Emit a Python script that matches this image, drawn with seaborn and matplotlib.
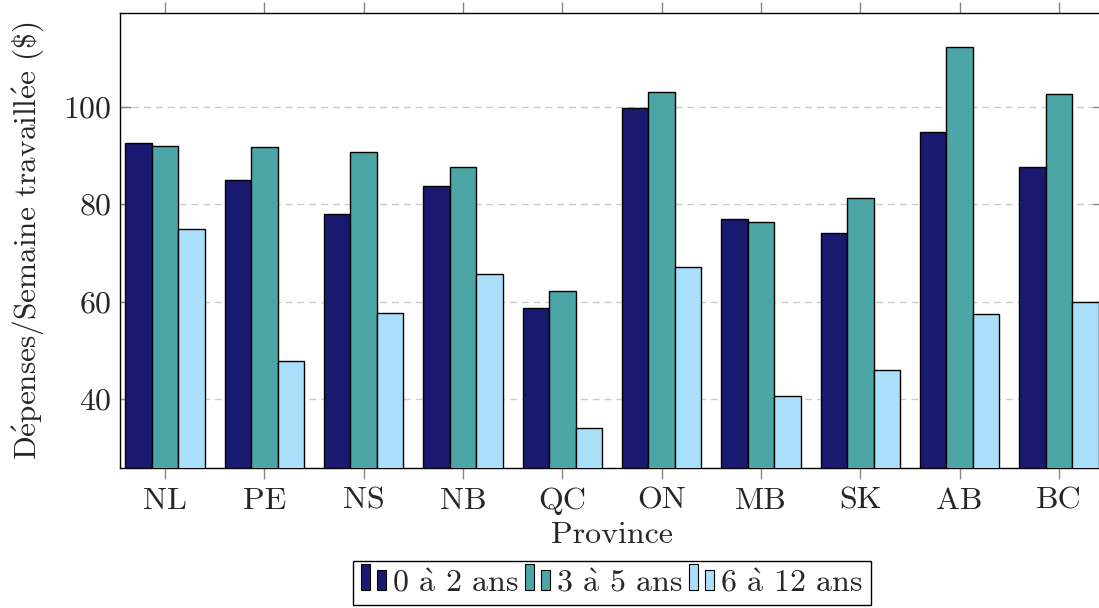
import matplotlib
matplotlib.use("Agg")
import matplotlib.pyplot as plt
from matplotlib.patches import Rectangle
from matplotlib.legend_handler import HandlerBase
import seaborn as sns
import pandas as pd

provinces = ["NL", "PE", "NS", "NB", "QC", "ON", "MB", "SK", "AB", "BC"]
age_groups = ["0 à 2 ans", "3 à 5 ans", "6 à 12 ans"]
vals_0_2 = [92.5, 84.9, 77.9, 83.7, 58.8, 99.8, 76.9, 74.0, 94.7, 87.6]
vals_3_5 = [91.9, 91.7, 90.7, 87.7, 62.2, 103.0, 76.3, 81.3, 112.3, 102.6]
vals_6_12 = [75.0, 47.9, 57.7, 65.7, 34.2, 67.2, 40.7, 46.0, 57.5, 60.0]
colors = ["#191970", "#4ca6a6", "#aadff9"]
x_label = "Province"
y_label = "Dépenses/Semaine travaillée ($)"

rows = []
for g, vals in zip(age_groups, [vals_0_2, vals_3_5, vals_6_12]):
    for p, v in zip(provinces, vals):
        rows.append({"Province": p, "Valeur": v, "Groupe": g})
df = pd.DataFrame(rows)


def tex(s):
    # render accented letters with Computer Modern accents
    s = s.replace("$", r"\$")
    s = s.replace("é", r"$\acute{\mathrm{e}}$").replace("à", r"$\grave{\mathrm{a}}$")
    return s


sns.set_style("white")
plt.rcParams["font.family"] = ["cmr10", "DejaVu Serif"]
plt.rcParams["mathtext.fontset"] = "cm"
plt.rcParams["axes.formatter.use_mathtext"] = True
FS = 23

fig = plt.figure(figsize=(10.99, 6.08), dpi=100)
ax = fig.add_axes([120 / 1099, 1 - 468 / 608, (1104 - 120) / 1099, (468 - 13) / 608])

sns.barplot(data=df, x="Province", y="Valeur", hue="Groupe", order=provinces,
            hue_order=age_groups, palette=colors, saturation=1, width=0.8, gap=0,
            edgecolor="black", linewidth=1.0, ax=ax, legend=False, errorbar=None, zorder=3)

ax.set_xlim(-0.453, 9.453)
ax.set_ylim(25.9, 119.2)
ax.set_yticks([40, 60, 80, 100])
ax.yaxis.grid(True, color="#cccccc", linestyle=(0, (5, 3.5)), linewidth=1.0, zorder=0)
ax.set_axisbelow(True)

ax.tick_params(axis="x", which="both", direction="out", length=8, width=1, color="#888888",
               top=True, bottom=True, labelsize=FS, pad=6)
ax.tick_params(axis="y", which="both", direction="in", length=8, width=1, color="#888888",
               left=True, right=True, labelsize=FS, pad=6)

for s in ["left", "bottom", "top", "right"]:
    ax.spines[s].set_visible(True)
    ax.spines[s].set_color("black")
    ax.spines[s].set_linewidth(1.0)

ax.set_xlabel(x_label, fontsize=FS, labelpad=5)
ax.set_ylabel(tex(y_label), fontsize=22.5, labelpad=12)


class DoubleBar(HandlerBase):
    def create_artists(self, legend, orig_handle, xdescent, ydescent, width, height, fontsize, trans):
        fc = orig_handle.get_facecolor()
        bw = width * 0.36
        x0 = -xdescent
        y0 = -ydescent + height * 0.08
        r1 = Rectangle((x0, y0), bw, height * 1.15, facecolor=fc, edgecolor="black",
                       linewidth=0.8, transform=trans)
        r2 = Rectangle((x0 + width * 0.64, y0), bw, height * 0.88, facecolor=fc, edgecolor="black",
                       linewidth=0.8, transform=trans)
        return [r1, r2]


handles = [Rectangle((0, 0), 1, 1, facecolor=c) for c in colors]
leg = fig.legend(handles, [tex(g) for g in age_groups], loc="upper center", ncol=3,
                 bbox_to_anchor=(612 / 1099, 1 - 561 / 608), borderaxespad=0,
                 handler_map={Rectangle: DoubleBar()}, fontsize=FS,
                 handlelength=0.78, handletextpad=0.18, columnspacing=0.2,
                 borderpad=0.25, fancybox=False, framealpha=1, edgecolor="black")
leg.get_frame().set_linewidth(1.0)

fig.savefig("out.png", dpi=100)
